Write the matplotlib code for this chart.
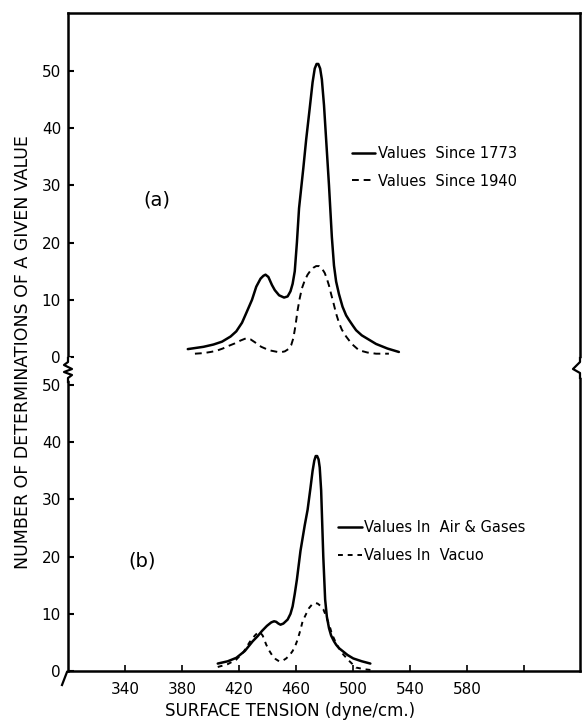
import matplotlib
matplotlib.use("Agg")
import matplotlib.pyplot as plt

plt.rcParams['font.family'] = ['DejaVu Sans']

# ---- data ----
x_since_1773 = [384, 395, 402, 408, 414, 418, 422, 425, 429, 432, 435, 437, 438.5, 440.5,
                443, 445, 448, 451.5, 454, 456, 457.5, 459, 460.5, 462, 465, 467, 469.5,
                471.5, 473, 474.3, 475.5, 476.8, 478, 479.5, 481, 483, 485, 486.5, 488,
                490, 492.5, 495, 497, 500, 502, 506, 510, 516, 520, 524, 528, 532]
y_since_1773 = [1.4, 1.8, 2.2, 2.7, 3.6, 4.5, 6.0, 7.7, 10.0, 12.3, 13.7, 14.2, 14.4, 14.0,
                12.6, 11.7, 10.8, 10.4, 10.6, 11.5, 12.8, 15, 20, 26, 33, 38, 43.5,
                48, 50.4, 51.2, 51.2, 50.4, 48.5, 44, 38, 30, 21, 16, 13.2,
                11.0, 8.8, 7.3, 6.5, 5.4, 4.7, 3.8, 3.2, 2.3, 1.9, 1.5, 1.2, 0.9]

x_since_1940 = [389, 395, 400, 404, 408.5, 413, 417, 421, 425, 428, 431, 435.5, 441, 447,
                450, 452, 454.5, 456.5, 458, 459.5, 461, 462.5, 464, 466, 468, 470,
                472, 474, 476, 478, 480, 481.5, 483, 484.5, 486, 488, 490, 492, 495,
                499, 504, 510, 516, 525]
y_since_1940 = [0.6, 0.7, 0.9, 1.1, 1.5, 2.0, 2.4, 2.9, 3.3, 3.1, 2.6, 1.8, 1.2, 0.9,
                0.9, 1.0, 1.4, 2.1, 3.3, 5.5, 8.2, 10.3, 12, 13.4, 14.4, 15.1,
                15.6, 15.9, 15.9, 15.5, 14.7, 13.7, 12.5, 11.0, 9.6, 7.6, 6.0, 4.8, 3.6,
                2.3, 1.2, 0.8, 0.6, 0.6]

x_air = [405, 412, 418, 424, 429.5, 433, 436, 439.5, 442.5, 444.5, 446, 447.5, 449, 451,
         454, 456, 457.5, 459, 460.5, 463, 466, 468, 470, 471.5, 472.7, 473.7, 474.7,
         475.7, 476.5, 477.5, 479, 480.3, 481.5, 483, 484.5, 486.5, 488, 490, 492.5,
         496, 500, 506, 512]
y_air = [1.3, 1.7, 2.3, 3.5, 5.2, 6.1, 7.0, 7.9, 8.5, 8.7, 8.6, 8.3, 8.1, 8.3,
         9.0, 10.0, 11.3, 13.5, 16, 21, 25.5, 28.2, 32, 35, 36.8, 37.6, 37.6,
         37.0, 35.6, 31.6, 20, 12.5, 9.5, 7.5, 6.2, 5.2, 4.6, 4.0, 3.5,
         2.8, 2.2, 1.7, 1.3]

x_vacuo = [405, 412, 418, 423, 427.5, 431, 433, 434.5, 436.5, 439, 441, 443, 445.5, 448,
           450.5, 453, 455.5, 457.5, 459.5, 461, 463, 464.5, 467, 469, 471, 473, 475,
           477, 479, 480, 481.5, 482.5, 484, 485, 487, 489, 491, 493, 497, 502, 508, 515]
y_vacuo = [0.7, 1.2, 2.0, 3.3, 5.1, 6.2, 6.7, 6.8, 6.2, 4.6, 3.6, 2.8, 2.1, 1.7,
           1.8, 2.2, 2.8, 3.5, 4.5, 5.5, 7.2, 8.7, 10.0, 11.0, 11.6, 11.9, 11.8,
           11.4, 10.8, 10.2, 9.2, 8.5, 7.4, 6.5, 5.4, 4.4, 3.6, 2.9, 1.8, 0.6, 0.3, 0.1]

x_ticks = [340, 380, 420, 460, 500, 540, 580, 620]
x_ticklabels = ['340', '380', '420', '460', '500', '540', '580', '']
y_ticks = [0, 10, 20, 30, 40, 50]

labels_a = ['Values  Since 1773', 'Values  Since 1940']
labels_b = ['Values In  Air & Gases', 'Values In  Vacuo']

# ---- layout ----
W, H = 582, 726
fig = plt.figure(figsize=(W / 100, H / 100), dpi=100)

def fx(px):
    return px / W

def fy(py):
    return 1 - py / H

left, right = 68, 580
top, brk, bottom = 13, 368, 671

ax_a = fig.add_axes([fx(left), fy(brk), fx(right) - fx(left), fy(top) - fy(brk)])
ax_b = fig.add_axes([fx(left), fy(bottom), fx(right) - fx(left), fy(brk) - fy(bottom)])

lw_solid = 1.8
lw_dash = 1.4

ax_a.plot(x_since_1773, y_since_1773, color='black', lw=lw_solid, label=labels_a[0],
          solid_capstyle='round', solid_joinstyle='round')
ax_a.plot(x_since_1940, y_since_1940, color='black', lw=lw_dash, ls=(0, (3.5, 2.5)),
          label=labels_a[1])
ax_b.plot(x_air, y_air, color='black', lw=lw_solid, label=labels_b[0],
          solid_capstyle='round', solid_joinstyle='round')
ax_b.plot(x_vacuo, y_vacuo, color='black', lw=lw_dash, ls=(0, (2.5, 2.5)),
          label=labels_b[1])

for ax in (ax_a, ax_b):
    ax.set_xlim(300, 659)
    ax.set_yticks(y_ticks)
    ax.tick_params(axis='y', direction='in', length=4, width=1.5, labelsize=11, pad=5)
    for s in ax.spines.values():
        s.set_linewidth(1.8)

ax_a.set_ylim(-1.9, 60.1)
ax_b.set_ylim(0, 53)

ax_a.spines['bottom'].set_visible(False)
ax_b.spines['top'].set_visible(False)
ax_a.tick_params(axis='x', bottom=False, labelbottom=False)

ax_b.set_xticks(x_ticks)
ax_b.set_xticklabels(x_ticklabels)
ax_b.tick_params(axis='x', direction='in', length=4, width=1.2, labelsize=11, pad=8)

# panel letters
ax_a.text(362, 27.4, '(a)', fontsize=14, ha='center', va='center')
ax_b.text(352, 19.2, '(b)', fontsize=14, ha='center', va='center')

# legends
ax_a.legend(loc='upper left', bbox_to_anchor=(0.555, 0.625), frameon=False,
            handlelength=1.6, handletextpad=0.15, labelspacing=0.85, borderpad=0,
            borderaxespad=0, fontsize=10.5)
ax_b.legend(loc='upper left', bbox_to_anchor=(0.528, 0.497), frameon=False,
            handlelength=1.6, handletextpad=0.15, labelspacing=0.85, borderpad=0,
            borderaxespad=0, fontsize=10.5)

# axis labels
fig.text(fx(23), fy(352), 'NUMBER OF DETERMINATIONS OF A GIVEN VALUE', rotation=90,
         ha='center', va='center', fontsize=12.5)
fig.text(fx(290), fy(711), 'SURFACE TENSION (dyne/cm.)', ha='center', va='center',
         fontsize=12)

# break marks (decoration) in figure coords
fig.add_artist(plt.Line2D([fx(68), fx(68)], [fy(360), fy(378)], color='white', lw=4))
zig_x = [fx(68), fx(68), fx(64), fx(72), fx(64), fx(72), fx(68), fx(68)]
zig_y = [fy(358), fy(362), fy(365), fy(369), fy(372), fy(375), fy(378), fy(382)]
fig.add_artist(plt.Line2D(zig_x, zig_y, color='black', lw=1.6))
fig.add_artist(plt.Line2D([fx(580), fx(580)], [fy(361), fy(375)], color='white', lw=4))
rx = [fx(580), fx(580), fx(573), fx(580), fx(580)]
ry = [fy(358), fy(362), fy(369), fy(373), fy(378)]
fig.add_artist(plt.Line2D(rx, ry, color='black', lw=1.6))
fig.add_artist(plt.Line2D([fx(62), fx(67)], [fy(685), fy(672)], color='black', lw=1.6))

fig.savefig('out.png', dpi=100)
